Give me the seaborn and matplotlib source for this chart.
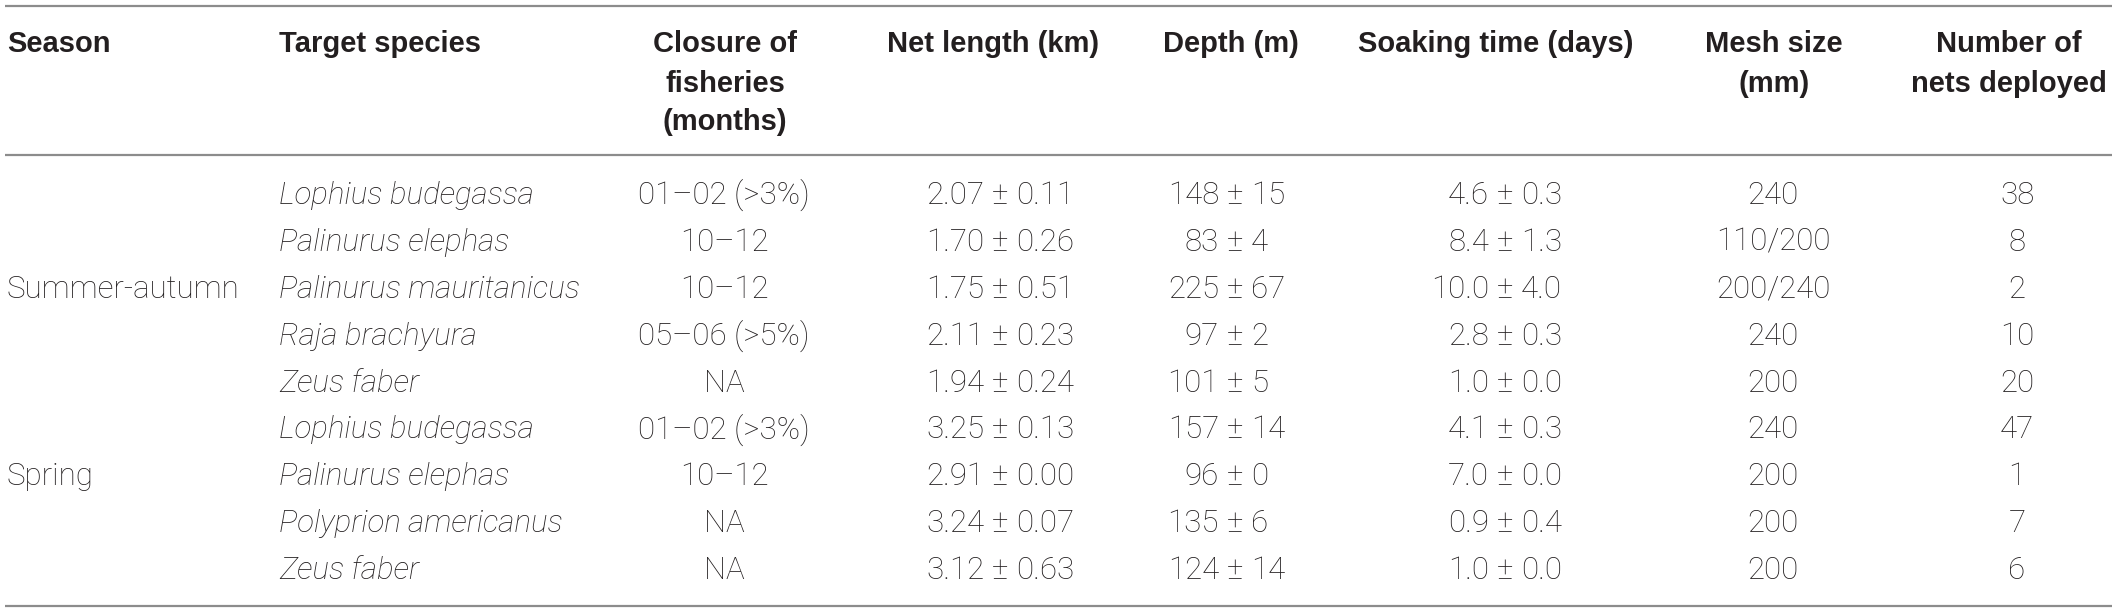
import matplotlib
matplotlib.use("Agg")
import matplotlib.pyplot as plt
import seaborn as sns

# table content
seasons = ["Summer-autumn", "Spring"]
season_rows = [2, 6]
species = ["Lophius budegassa", "Palinurus elephas", "Palinurus mauritanicus",
           "Raja brachyura", "Zeus faber", "Lophius budegassa",
           "Palinurus elephas", "Polyprion americanus", "Zeus faber"]
closure = ["01–02 (>3%)", "10–12", "10–12", "05–06 (>5%)", "NA",
           "01–02 (>3%)", "10–12", "NA", "NA"]
net_mean = ["2.07", "1.70", "1.75", "2.11", "1.94", "3.25", "2.91", "3.24", "3.12"]
net_sd = ["0.11", "0.26", "0.51", "0.23", "0.24", "0.13", "0.00", "0.07", "0.63"]
depth_mean = ["148", "83", "225", "97", "101", "157", "96", "135", "124"]
depth_sd = ["15", "4", "67", "2", "5", "14", "0", "6", "14"]
soak_mean = ["4.6", "8.4", "10.0", "2.8", "1.0", "4.1", "7.0", "0.9", "1.0"]
soak_sd = ["0.3", "1.3", "4.0", "0.3", "0.0", "0.3", "0.0", "0.4", "0.0"]
mesh = ["240", "110/200", "200/240", "240", "200", "240", "200", "200", "200"]
n_nets = ["38", "8", "2", "10", "20", "47", "1", "7", "6"]

headers = ["Season", "Target species", "Closure of\nfisheries\n(months)",
           "Net length (km)", "Depth (m)", "Soaking time (days)",
           "Mesh size\n(mm)", "Number of\nnets deployed"]

# layout (pixels)
W, H = 2117, 611
x_season, x_species = 7, 279
x_closure, x_net, x_depth, x_soak, x_mesh, x_n = 724, 1000, 1235, 1505, 1773, 2017
hdr_x = [7, 279, 725, 993, 1231, 1496, 1774, 2009]
hdr_ha = ["left", "left"] + ["center"] * 6
y_top, y_head, y_bottom = 5.5, 155, 606
row0, row_step = 193, 46.9
cap = 11
fs = 22.5
txt_col = "#231f20"
line_col = "#8c8c8c"

sns.set_theme(style="white")
plt.rcParams["font.family"] = ["Roboto", "DejaVu Sans"]

fig = plt.figure(figsize=(W / 100, H / 100), dpi=100)
ax = fig.add_axes([0, 0, 1, 1])
ax.set_xlim(0, W)
ax.set_ylim(H, 0)
ax.axis("off")

for y in (y_top, y_head, y_bottom):
    ax.plot([5, W - 5], [y, y], color=line_col, lw=1.6, solid_capstyle="butt")

for text, x, ha in zip(headers, hdr_x, hdr_ha):
    for k, part in enumerate(text.split("\n")):
        ax.text(x, 42 + 10.5 + k * 39, part, ha=ha, va="baseline", fontsize=21,
                fontweight="bold", color=txt_col, family=["Liberation Sans", "DejaVu Sans"])

body = dict(fontsize=fs, color=txt_col, va="baseline", fontweight="light")


def pm(ax, x, y, left, right):
    ax.text(x, y, "±", ha="center", **body)
    ax.text(x - 16, y, left, ha="right", **body)
    ax.text(x + 16, y, right, ha="left", **body)


for s, r in zip(seasons, season_rows):
    ax.text(x_season, row0 + r * row_step + cap, s, ha="left", **body)

for i in range(len(species)):
    y = row0 + i * row_step + cap
    ax.text(x_species, y, species[i], ha="left", style="italic", **body)
    ax.text(x_closure, y, closure[i], ha="center", **body)
    pm(ax, x_net, y, net_mean[i], net_sd[i])
    pm(ax, x_depth, y, depth_mean[i], depth_sd[i])
    pm(ax, x_soak, y, soak_mean[i], soak_sd[i])
    ax.text(x_mesh, y, mesh[i], ha="center", **body)
    ax.text(x_n, y, n_nets[i], ha="center", **body)

fig.savefig("out.png", dpi=100, facecolor="white")
